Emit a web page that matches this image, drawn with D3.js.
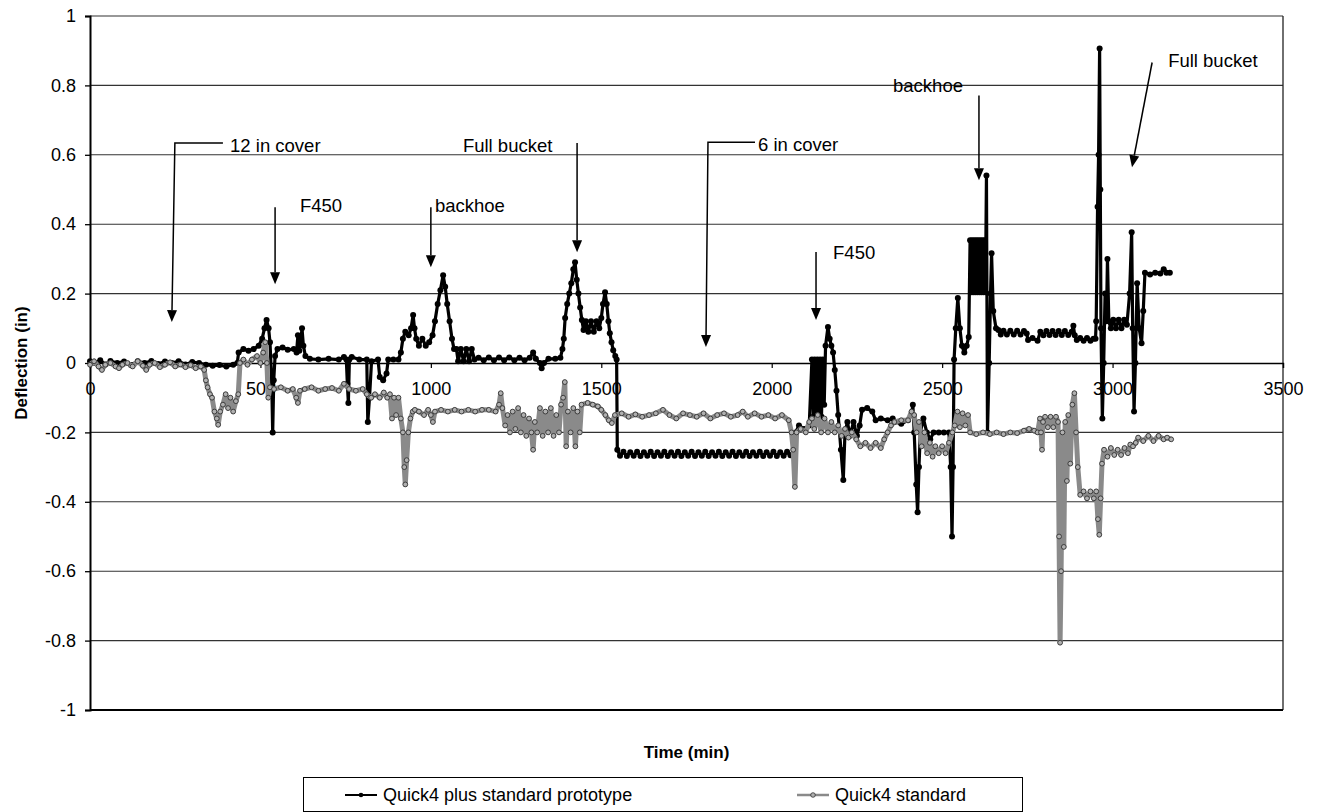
<!DOCTYPE html>
<html><head><meta charset="utf-8">
<script src="https://cdn.jsdelivr.net/npm/d3@7"></script>
<style>
body{margin:0;background:#fff}
svg{display:block}
text{font-family:"Liberation Sans",Arial,sans-serif;fill:#000}
</style>
</head><body>
<svg id="chart" width="1323" height="812"></svg>
<script>
// ---------------- data ----------------
const xTicks = [0, 500, 1000, 1500, 2000, 2500, 3000, 3500];
const yTicks = [-1, -0.8, -0.6, -0.4, -0.2, 0, 0.2, 0.4, 0.6, 0.8, 1];
const yTickLabels = ["-1", "-0.8", "-0.6", "-0.4", "-0.2", "0", "0.2", "0.4", "0.6", "0.8", "1"];
const seriesNames = ["Quick4 plus standard prototype", "Quick4 standard"];
const xTitle = "Time (min)";
const yTitle = "Deflection (in)";

// [time (min), deflection (in)]
const protoData = [
[0,0.005],[15,0.0],[30,0.008],[45,-0.004],[60,0.006],[80,0.0],[100,0.004],[120,-0.006],[140,0.005],[160,0.0],
[180,0.006],[200,-0.003],[220,0.004],[240,0.0],[260,0.005],[280,-0.004],[300,0.003],[320,0.0],[340,-0.005],[360,-0.008],
[380,-0.006],[400,-0.01],[420,-0.005],[432,0.0],[436,0.03],[450,0.04],[465,0.035],[480,0.04],[495,0.05],[505,0.07],
[512,0.1],[518,0.124],[524,0.1],[528,0.06],[533,-0.05],[536,-0.2],[539,-0.05],[543,0.02],[550,0.04],[565,0.045],
[580,0.038],[598,0.04],[606,0.03],[610,0.08],[614,0.035],[618,0.06],[622,0.1],[626,0.05],[632,0.02],[645,0.012],
[670,0.01],[700,0.012],[730,0.01],[745,0.017],[752,0.01],[755,-0.06],[758,-0.115],[761,0.01],[768,0.017],[790,0.01],
[812,0.01],[815,-0.17],[820,-0.1],[826,0.005],[845,0.01],[850,-0.04],[860,-0.05],[870,-0.03],[875,0.01],[890,0.01],
[905,0.01],[912,0.03],[918,0.07],[925,0.09],[935,0.08],[942,0.1],[948,0.138],[952,0.1],[957,0.07],[965,0.05],
[975,0.07],[985,0.05],[995,0.06],[1005,0.08],[1012,0.12],[1020,0.17],[1028,0.21],[1036,0.253],[1042,0.22],[1048,0.17],
[1055,0.12],[1062,0.07],[1068,0.04],[1075,0.04],[1080,0.005],[1088,0.04],[1096,0.005],[1104,0.04],[1112,0.005],[1120,0.04],
[1128,0.01],[1140,0.015],[1155,0.008],[1170,0.016],[1185,0.008],[1200,0.016],[1215,0.008],[1230,0.016],[1245,0.008],[1260,0.015],
[1275,0.008],[1290,0.015],[1300,0.03],[1308,0.012],[1320,0.0],
[1325,-0.015],[1332,0.0],[1345,0.012],[1365,0.012],[1380,0.015],[1386,0.04],[1390,0.07],[1394,0.13],[1400,0.17],[1406,0.2],
[1412,0.23],[1418,0.27],[1423,0.29],[1428,0.24],[1433,0.2],[1438,0.16],[1443,0.124],[1448,0.095],[1455,0.12],[1462,0.09],
[1470,0.12],[1478,0.09],[1486,0.12],[1494,0.1],[1500,0.13],[1505,0.17],[1511,0.204],[1516,0.17],[1521,0.12],[1525,0.086],
[1530,0.06],[1535,0.037],[1541,0.02],[1545,0.01],[1547,-0.25],
[1555,-0.267],[1565,-0.256],[1575,-0.268],[1585,-0.257],[1595,-0.267],[1605,-0.256],[1615,-0.268],[1625,-0.257],[1635,-0.267],[1645,-0.256],
[1655,-0.268],[1665,-0.257],[1675,-0.267],[1685,-0.256],[1695,-0.268],[1705,-0.257],[1715,-0.267],[1725,-0.256],[1735,-0.268],[1745,-0.257],
[1755,-0.267],[1765,-0.256],[1775,-0.268],[1785,-0.257],[1795,-0.267],[1805,-0.256],[1815,-0.268],[1825,-0.257],[1835,-0.267],[1845,-0.256],
[1855,-0.268],[1865,-0.257],[1875,-0.267],[1885,-0.256],[1895,-0.268],[1905,-0.257],[1915,-0.267],[1925,-0.256],[1935,-0.268],[1945,-0.257],
[1955,-0.267],[1965,-0.256],[1975,-0.268],[1985,-0.257],[1995,-0.267],[2005,-0.256],[2015,-0.268],[2025,-0.257],[2035,-0.267],[2045,-0.256],
[2055,-0.266],[2065,-0.25],[2070,-0.2],[2080,-0.18],[2095,-0.19],
[2110,-0.18],[2118,0.01],[2122,-0.155],[2126,0.01],[2130,-0.155],[2134,0.01],[2138,-0.155],[2142,0.01],[2146,-0.155],[2150,0.01],
[2154,-0.12],[2158,0.05],[2165,0.104],[2170,0.07],[2175,0.05],[2180,0.03],[2185,-0.02],[2190,-0.08],[2195,-0.15],[2203,-0.25],
[2210,-0.337],[2215,-0.2],[2222,-0.17],[2230,-0.21],[2240,-0.17],[2250,-0.21],[2258,-0.18],[2265,-0.135],[2280,-0.13],[2295,-0.14],
[2305,-0.165],[2320,-0.16],[2340,-0.165],[2355,-0.16],[2360,-0.17],[2380,-0.175],[2400,-0.165],[2410,-0.15],[2414,-0.12],[2418,-0.2],
[2424,-0.35],[2428,-0.43],[2432,-0.3],[2436,-0.2],[2445,-0.16],[2455,-0.2],[2465,-0.22],[2475,-0.2],[2490,-0.2],[2505,-0.2],
[2520,-0.2],[2525,-0.3],[2529,-0.5],[2532,-0.3],[2535,0.01],[2540,0.1],[2546,0.187],[2552,0.1],[2558,0.05],[2565,0.03],
[2572,0.05],[2578,0.075],[2582,0.354],[2585,0.204],[2588,0.354],[2591,0.204],[2594,0.354],[2597,0.204],[2600,0.354],[2603,0.204],
[2606,0.354],[2609,0.204],[2612,0.354],[2615,0.204],[2618,0.354],[2621,0.204],[2624,0.354],[2627,0.204],[2630,0.54],[2633,-0.2],
[2638,0.0],[2642,0.2],[2645,0.316],[2650,0.15],[2658,0.1],[2665,0.095],[2672,0.082],[2680,0.093],[2690,0.082],[2700,0.093],
[2710,0.082],[2720,0.093],[2730,0.082],[2740,0.092],[2748,0.085],[2752,0.066],[2765,0.072],[2780,0.064],[2788,0.09],[2797,0.08],
[2806,0.092],[2815,0.081],[2824,0.092],[2833,0.081],[2842,0.092],[2851,0.081],[2860,0.092],[2870,0.081],[2880,0.09],[2885,0.107],
[2889,0.08],[2895,0.066],[2905,0.072],[2915,0.064],[2925,0.072],[2935,0.064],[2944,0.07],[2950,0.07],[2952,0.12],[2956,0.45],
[2959,0.6],[2962,0.906],[2964,0.5],[2966,0.1],[2970,-0.16],[2974,0.0],[2978,0.2],[2982,0.12],[2985,0.3],[2989,0.12],
[2995,0.1],[3002,0.125],[3010,0.1],[3018,0.125],[3026,0.1],[3034,0.125],[3042,0.11],[3050,0.2],[3056,0.377],[3059,0.1],
[3063,-0.14],[3067,0.0],[3072,0.23],[3078,0.1],[3085,0.057],[3090,0.15],[3095,0.26],[3110,0.255],[3125,0.26],[3140,0.258],
[3150,0.27],[3158,0.26],[3168,0.26]
];

const stdData = [
[0,-0.005],[12,0.005],[25,-0.01],[35,-0.02],[45,-0.005],[60,0.0],[75,-0.01],[85,-0.015],[95,-0.005],[110,0.0],
[125,-0.01],[140,0.005],[155,-0.008],[165,-0.02],[175,-0.005],[190,0.0],[205,-0.012],[220,-0.005],[235,0.002],[250,-0.01],
[265,-0.004],[280,-0.012],[295,-0.006],[310,-0.015],[325,-0.01],[335,-0.02],[340,-0.05],[345,-0.07],[352,-0.09],[358,-0.1],
[365,-0.14],[372,-0.16],[376,-0.178],[382,-0.14],[390,-0.12],[398,-0.09],[405,-0.13],[412,-0.1],[420,-0.14],[428,-0.11],
[435,-0.09],[440,0.0],[450,0.01],[462,-0.005],[475,0.01],[490,0.02],[500,0.0],[508,0.03],[514,0.06],[519,0.0],
[523,-0.1],[528,-0.07],[540,-0.075],[560,-0.07],[580,-0.08],[595,-0.075],[605,-0.1],[610,-0.115],[616,-0.08],[630,-0.075],
[650,-0.07],[670,-0.08],[690,-0.075],[710,-0.072],[730,-0.08],[745,-0.06],[760,-0.075],[780,-0.08],[800,-0.075],[812,-0.09],
[825,-0.1],[836,-0.09],[850,-0.1],[862,-0.085],[872,-0.1],[880,-0.09],[886,-0.16],[892,-0.1],[898,-0.15],[905,-0.1],
[912,-0.16],[918,-0.2],[922,-0.3],[925,-0.35],[929,-0.28],[934,-0.2],[940,-0.16],[947,-0.14],[953,-0.135],[965,-0.14],
[980,-0.15],[992,-0.135],[1000,-0.15],[1006,-0.17],[1012,-0.14],[1030,-0.135],[1050,-0.14],[1070,-0.135],[1090,-0.14],[1110,-0.135],
[1130,-0.14],[1150,-0.135],[1170,-0.135],[1190,-0.14],[1200,-0.12],[1205,-0.087],[1210,-0.13],[1218,-0.18],[1225,-0.15],[1232,-0.2],
[1240,-0.14],[1248,-0.19],[1256,-0.13],[1264,-0.2],[1272,-0.15],[1280,-0.21],[1288,-0.16],[1295,-0.2],[1300,-0.25],[1305,-0.17],
[1312,-0.2],[1320,-0.13],[1328,-0.21],[1336,-0.14],[1344,-0.2],[1352,-0.13],[1360,-0.21],[1368,-0.15],[1376,-0.2],[1382,-0.12],
[1388,-0.1],[1393,-0.055],[1397,-0.24],[1402,-0.14],[1410,-0.2],[1418,-0.13],[1424,-0.24],[1430,-0.14],[1437,-0.2],[1442,-0.12],
[1460,-0.115],[1475,-0.12],[1490,-0.125],[1500,-0.135],[1512,-0.15],[1522,-0.165],[1531,-0.173],[1540,-0.15],[1560,-0.145],[1580,-0.155],
[1600,-0.148],[1620,-0.155],[1640,-0.15],[1660,-0.145],[1681,-0.135],[1700,-0.15],[1720,-0.16],[1740,-0.145],[1760,-0.15],[1780,-0.155],
[1800,-0.145],[1820,-0.16],[1840,-0.15],[1860,-0.145],[1880,-0.155],[1900,-0.15],[1915,-0.14],[1930,-0.155],[1950,-0.145],[1970,-0.155],
[1990,-0.15],[2010,-0.16],[2030,-0.15],[2050,-0.165],[2058,-0.2],[2063,-0.25],[2068,-0.357],[2073,-0.2],[2085,-0.19],[2100,-0.2],
[2110,-0.17],[2118,-0.16],[2125,-0.19],[2135,-0.15],[2145,-0.2],[2155,-0.16],[2165,-0.2],[2175,-0.17],[2185,-0.2],[2195,-0.18],
[2205,-0.21],[2215,-0.19],[2225,-0.215],[2235,-0.2],[2248,-0.22],[2260,-0.24],[2275,-0.23],[2290,-0.245],[2305,-0.23],[2320,-0.245],
[2330,-0.22],[2340,-0.2],[2350,-0.18],[2360,-0.17],[2380,-0.165],[2400,-0.165],[2410,-0.14],[2418,-0.15],[2425,-0.2],[2432,-0.17],
[2440,-0.24],[2448,-0.2],[2456,-0.26],[2464,-0.23],[2472,-0.27],[2480,-0.24],[2490,-0.26],[2500,-0.24],[2510,-0.26],[2520,-0.23],
[2530,-0.2],[2537,-0.18],[2545,-0.14],[2552,-0.185],[2560,-0.145],[2568,-0.18],[2576,-0.15],[2582,-0.2],[2600,-0.205],[2620,-0.2],
[2640,-0.205],[2660,-0.2],[2680,-0.205],[2700,-0.2],[2720,-0.202],[2740,-0.195],[2755,-0.19],[2770,-0.195],[2780,-0.2],[2787,-0.16],
[2790,-0.2],[2793,-0.25],[2796,-0.17],[2802,-0.155],[2810,-0.185],[2818,-0.155],[2826,-0.185],[2834,-0.155],[2840,-0.17],[2843,-0.5],
[2846,-0.806],[2849,-0.6],[2853,-0.2],[2857,-0.53],[2861,-0.17],[2866,-0.34],[2870,-0.15],[2876,-0.29],[2882,-0.12],[2888,-0.087],
[2893,-0.2],[2898,-0.3],[2905,-0.38],[2915,-0.37],[2925,-0.39],[2935,-0.37],[2945,-0.39],[2952,-0.37],[2957,-0.45],[2961,-0.495],
[2965,-0.39],[2969,-0.29],[2975,-0.25],[2985,-0.27],[2995,-0.245],[3005,-0.265],[3015,-0.25],[3025,-0.265],[3035,-0.245],[3045,-0.26],
[3052,-0.235],[3060,-0.24],[3068,-0.23],[3075,-0.215],[3090,-0.225],[3105,-0.21],[3120,-0.225],[3135,-0.21],[3150,-0.22],[3160,-0.215],
[3172,-0.22]
];

// annotation callouts: label, label anchor [time, defl], arrow polyline [[time, defl], ...] (last point = tip)
const annotations = [
  {label: "12 in cover", at: [411, 0.628], path: [[390, 0.634], [249, 0.634], [240, 0.118]]},
  {label: "F450",        at: [616, 0.455], path: [[543, 0.449], [543, 0.227]]},
  {label: "backhoe",     at: [1012, 0.455], path: [[1000, 0.449], [1000, 0.276]]},
  {label: "Full bucket", at: [1094, 0.628], path: [[1429, 0.634], [1429, 0.319]]},
  {label: "6 in cover",  at: [1960, 0.631], path: [[1951, 0.636], [1813, 0.636], [1807, 0.046]]},
  {label: "F450",        at: [2180, 0.317], path: [[2130, 0.32], [2130, 0.124]]},
  {label: "backhoe",     at: [2356, 0.80], path: [[2608, 0.771], [2608, 0.527]]},
  {label: "Full bucket", at: [3163, 0.873], path: [[3116, 0.866], [3057, 0.564]]}
];

// ---------------- drawing ----------------
const plot = {left: 90, right: 1283, top: 16, bottom: 710};
const svg = d3.select("#chart");
const FONT = '"Liberation Sans",Arial,sans-serif';

const x = d3.scaleLinear().domain([0, 3500]).range([plot.left, plot.right]);
const y = d3.scaleLinear().domain([-1, 1]).range([plot.bottom, plot.top]);

// gridlines
svg.append("g").selectAll("line")
  .data(yTicks.filter(v => v !== 0 && v !== -1))
  .join("line")
  .attr("x1", plot.left).attr("x2", plot.right)
  .attr("y1", d => y(d)).attr("y2", d => y(d))
  .attr("stroke", "#333").attr("stroke-width", 1.1);

// frame (right, bottom)
svg.append("line").attr("x1", plot.right).attr("x2", plot.right).attr("y1", plot.top).attr("y2", plot.bottom)
  .attr("stroke", "#222").attr("stroke-width", 1.3);
svg.append("line").attr("x1", plot.left).attr("x2", plot.right).attr("y1", plot.bottom).attr("y2", plot.bottom)
  .attr("stroke", "#000").attr("stroke-width", 2);

// y axis
const yAxis = d3.axisLeft(y).tickValues(yTicks).tickSize(5).tickPadding(9)
  .tickFormat((d, i) => yTickLabels[i]);
const gy = svg.append("g").attr("transform", `translate(${plot.left},0)`).call(yAxis);
gy.select(".domain").attr("stroke", "#000").attr("stroke-width", 2);
gy.selectAll(".tick line").attr("stroke", "#000").attr("stroke-width", 1.3);
gy.selectAll(".tick text").attr("font-size", 18).attr("font-family", FONT).attr("fill", "#000");

// x axis at y = 0
const xAxis = d3.axisBottom(x).tickValues(xTicks).tickSize(5).tickPadding(14).tickFormat(d => String(d));
const gx = svg.append("g").attr("transform", `translate(0,${y(0)})`).call(xAxis);
gx.select(".domain").attr("stroke", "#000").attr("stroke-width", 1.3);
gx.selectAll(".tick line").attr("stroke", "#000").attr("stroke-width", 1.2);
gx.selectAll(".tick text").attr("font-size", 18).attr("font-family", FONT).attr("fill", "#000");

// axis titles
svg.append("text").attr("x", (plot.left + plot.right) / 2).attr("y", 758)
  .attr("text-anchor", "middle").attr("font-size", 17).attr("font-weight", "bold").text(xTitle);
svg.append("text").attr("transform", `translate(27,${y(0)}) rotate(-90)`)
  .attr("text-anchor", "middle").attr("font-size", 17).attr("font-weight", "bold").text(yTitle);

// series
const line = d3.line().x(d => x(d[0])).y(d => y(d[1]));

// prototype (black)
svg.append("path").datum(protoData).attr("d", line)
  .attr("fill", "none").attr("stroke", "#000").attr("stroke-width", 3.2).attr("stroke-linejoin", "round");
svg.append("g").selectAll("circle").data(protoData).join("circle")
  .attr("cx", d => x(d[0])).attr("cy", d => y(d[1])).attr("r", 3).attr("fill", "#000");

// standard (grey)
svg.append("path").datum(stdData).attr("d", line)
  .attr("fill", "none").attr("stroke", "#8a8a8a").attr("stroke-width", 5).attr("stroke-linejoin", "round");
svg.append("g").selectAll("circle").data(stdData).join("circle")
  .attr("cx", d => x(d[0])).attr("cy", d => y(d[1])).attr("r", 2.4)
  .attr("fill", "#b0b0b0").attr("stroke", "#333").attr("stroke-width", 0.9);

// annotations
const ann = svg.append("g");
annotations.forEach(a => {
  const pts = a.path.map(p => [x(p[0]), y(p[1])]);
  const tip = pts[pts.length - 1], prev = pts[pts.length - 2];
  const dx = tip[0] - prev[0], dy = tip[1] - prev[1], len = Math.hypot(dx, dy);
  const ux = dx / len, uy = dy / len, hl = 12, hw = 5;
  const base = [tip[0] - ux * hl, tip[1] - uy * hl];
  const linePts = pts.slice(0, -1).concat([base]);
  ann.append("path").attr("d", d3.line()(linePts)).attr("fill", "none")
    .attr("stroke", "#000").attr("stroke-width", 1.5);
  ann.append("path").attr("d", d3.line()([tip, [base[0] - uy * hw, base[1] + ux * hw], [base[0] + uy * hw, base[1] - ux * hw]]) + "Z")
    .attr("fill", "#000");
  ann.append("text").attr("x", x(a.at[0])).attr("y", y(a.at[1])).attr("dy", "0.35em")
    .attr("font-size", 18.5).text(a.label);
});

// legend
const lg = svg.append("g");
lg.append("rect").attr("x", 303.5).attr("y", 777.5).attr("width", 719).attr("height", 34)
  .attr("fill", "#fff").attr("stroke", "#000").attr("stroke-width", 1);
const legendItems = [
  {name: seriesNames[0], x0: 345, stroke: "#000", sw: 2, mfill: "#000", mstroke: "none"},
  {name: seriesNames[1], x0: 797, stroke: "#8a8a8a", sw: 2.5, mfill: "#b0b0b0", mstroke: "#333"}
];
legendItems.forEach(it => {
  const cy = 795;
  lg.append("line").attr("x1", it.x0).attr("x2", it.x0 + 32).attr("y1", cy).attr("y2", cy)
    .attr("stroke", it.stroke).attr("stroke-width", it.sw);
  lg.append("circle").attr("cx", it.x0 + 16).attr("cy", cy).attr("r", 2.3)
    .attr("fill", it.mfill).attr("stroke", it.mstroke).attr("stroke-width", 0.8);
  lg.append("text").attr("x", it.x0 + 38).attr("y", cy).attr("dy", "0.35em")
    .attr("font-size", 18).text(it.name);
});
</script>
</body></html>
